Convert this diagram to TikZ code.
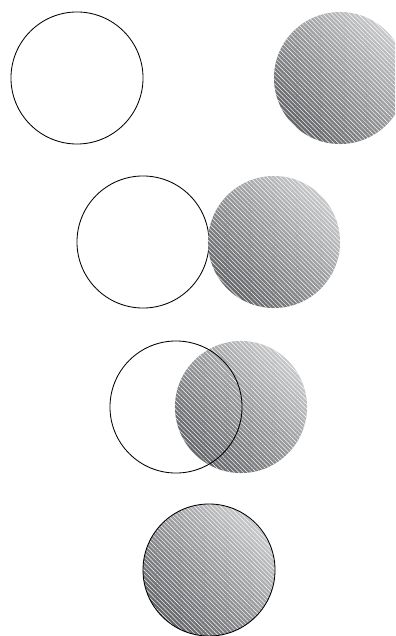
\documentclass[tikz,border=0pt]{standalone}
\usepackage{tikz}
\usetikzlibrary{patterns.meta}
\definecolor{discdark}{RGB}{100,101,104}
\definecolor{disclight}{RGB}{200,201,203}

\begin{document}
\begin{tikzpicture}[
    x=0.025cm, y=-0.025cm,
    ring/.style={circle, draw=black, line width=0.6pt, minimum size=3.3cm, inner sep=0pt},
    disc/.style={circle, minimum size=3.3cm, inner sep=0pt,
                 bottom color=discdark, top color=disclight, shading angle=-45,
                 postaction={pattern color=white, fill opacity=0.2,
                             pattern={Lines[angle=-45, distance=2.2pt, line width=0.3pt]}}},
]
% --- page frame: 395 x 636 px ---
\useasboundingbox (0,0) rectangle (395,636);
\clip (0,0) rectangle (395,636);

% =========================================================
% ROW 1: far apart
% =========================================================
\node[ring] (ringA) at (77,78) {};
\node[disc] (discA) at (340,78) {};

% =========================================================
% ROW 2: touching
% =========================================================
\node[ring] (ringB) at (143,242) {};
\node[disc] (discB) at (274,242) {};

% =========================================================
% ROW 3: overlapping, outline drawn on top
% =========================================================
\node[disc] (discC) at (241,407) {};
\node[ring] (ringC) at (176,407) {};

% =========================================================
% ROW 4: coincident
% =========================================================
\node[disc] (discD) at (209,570) {};
\node[ring] (ringD) at (discD.center) {};

\end{tikzpicture}
\end{document}
